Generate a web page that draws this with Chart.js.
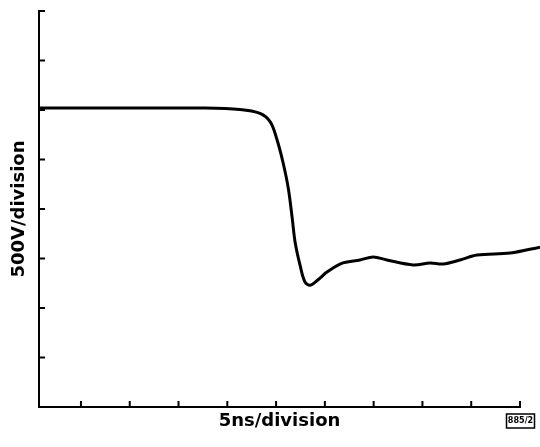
<!DOCTYPE html>
<html>
<head>
<meta charset="utf-8">
<script src="https://cdn.jsdelivr.net/npm/chart.js@4/dist/chart.umd.min.js"></script>
<style>
  html, body { margin: 0; padding: 0; background: #fff; }
  #wrap { width: 540px; height: 447px; }
</style>
</head>
<body>
<div id="wrap"><canvas id="scope"></canvas></div>
<script>
// trace, in divisions (x: 5 ns/div, y: 500 V/div)
const timeDiv = [0.14, 1.4, 2.4, 3.4, 4.26, 4.67, 4.88, 5.01, 5.14, 5.25, 5.33, 5.39, 5.49,
  5.59, 5.70, 5.86, 6.05, 6.37, 6.72, 6.99, 7.27, 7.81, 8.16, 8.42, 8.77, 9.12, 9.8, 10.41];
const voltDiv = [6.04, 6.04, 6.04, 6.04, 6.01, 5.93, 5.76, 5.43, 4.95, 4.42, 3.82, 3.33, 2.87,
  2.53, 2.46, 2.57, 2.73, 2.91, 2.97, 3.03, 2.97, 2.87, 2.91, 2.89, 2.97, 3.07, 3.11, 3.23];
const xTicks = [1, 2, 3, 4, 5, 6, 7, 8, 9, 10];
const yTicks = [1, 2, 3, 4, 5, 6, 7, 8];

const FONT = 'DejaVu Sans';

// short inward tick marks like the scope graticule edge
const tickMarks = {
  id: 'tickMarks',
  afterDraw(chart) {
    const { ctx, chartArea, scales } = chart;
    ctx.save();
    ctx.strokeStyle = '#000';
    ctx.lineWidth = 2;
    ctx.beginPath();
    xTicks.forEach((v) => {
      const px = scales.x.getPixelForValue(v);
      ctx.moveTo(px, chartArea.bottom);
      ctx.lineTo(px, chartArea.bottom - 6);
    });
    yTicks.forEach((v) => {
      const py = scales.y.getPixelForValue(v);
      ctx.moveTo(chartArea.left, py);
      ctx.lineTo(chartArea.left + 6, py);
    });
    ctx.stroke();

    // plate number box, bottom right
    ctx.font = 'bold 9px "DejaVu Sans Condensed"';
    ctx.fillStyle = '#000';
    ctx.textAlign = 'center';
    ctx.textBaseline = 'middle';
    ctx.fillText('885/2', 520.5, 421);
    ctx.lineWidth = 1.5;
    ctx.strokeRect(506.5, 414, 28, 14);
    ctx.restore();
  }
};

new Chart(document.getElementById('scope'), {
  type: 'line',
  data: {
    datasets: [{
      data: timeDiv.map((t, i) => ({ x: t, y: voltDiv[i] })),
      borderColor: '#000',
      borderWidth: 3,
      pointRadius: 0,
      tension: 0.35,
      clip: false,
    }],
  },
  options: {
    responsive: true,
    maintainAspectRatio: false,
    animation: false,
    layout: { padding: { top: 11, right: 20, left: 0, bottom: 0 } },
    plugins: { legend: { display: false }, tooltip: { enabled: false } },
    scales: {
      x: {
        type: 'linear',
        min: 0.14,
        max: 10,
        grid: { display: false, drawTicks: false },
        border: { display: true, color: '#000', width: 2 },
        ticks: { display: false },
        title: {
          display: true,
          text: '5ns/division',
          color: '#000',
          font: { family: FONT, size: 18, weight: 'bold' },
          padding: { top: 3.2, bottom: 15.2 },
        },
      },
      y: {
        min: 0,
        max: 8,
        grid: { display: false, drawTicks: false },
        border: { display: true, color: '#000', width: 2 },
        ticks: { display: false },
        title: {
          display: true,
          text: '500V/division',
          color: '#000',
          font: { family: FONT, size: 18, weight: 'bold' },
          padding: { top: 8.7, bottom: 8.7 },
        },
      },
    },
  },
  plugins: [tickMarks],
});
</script>
</body>
</html>
